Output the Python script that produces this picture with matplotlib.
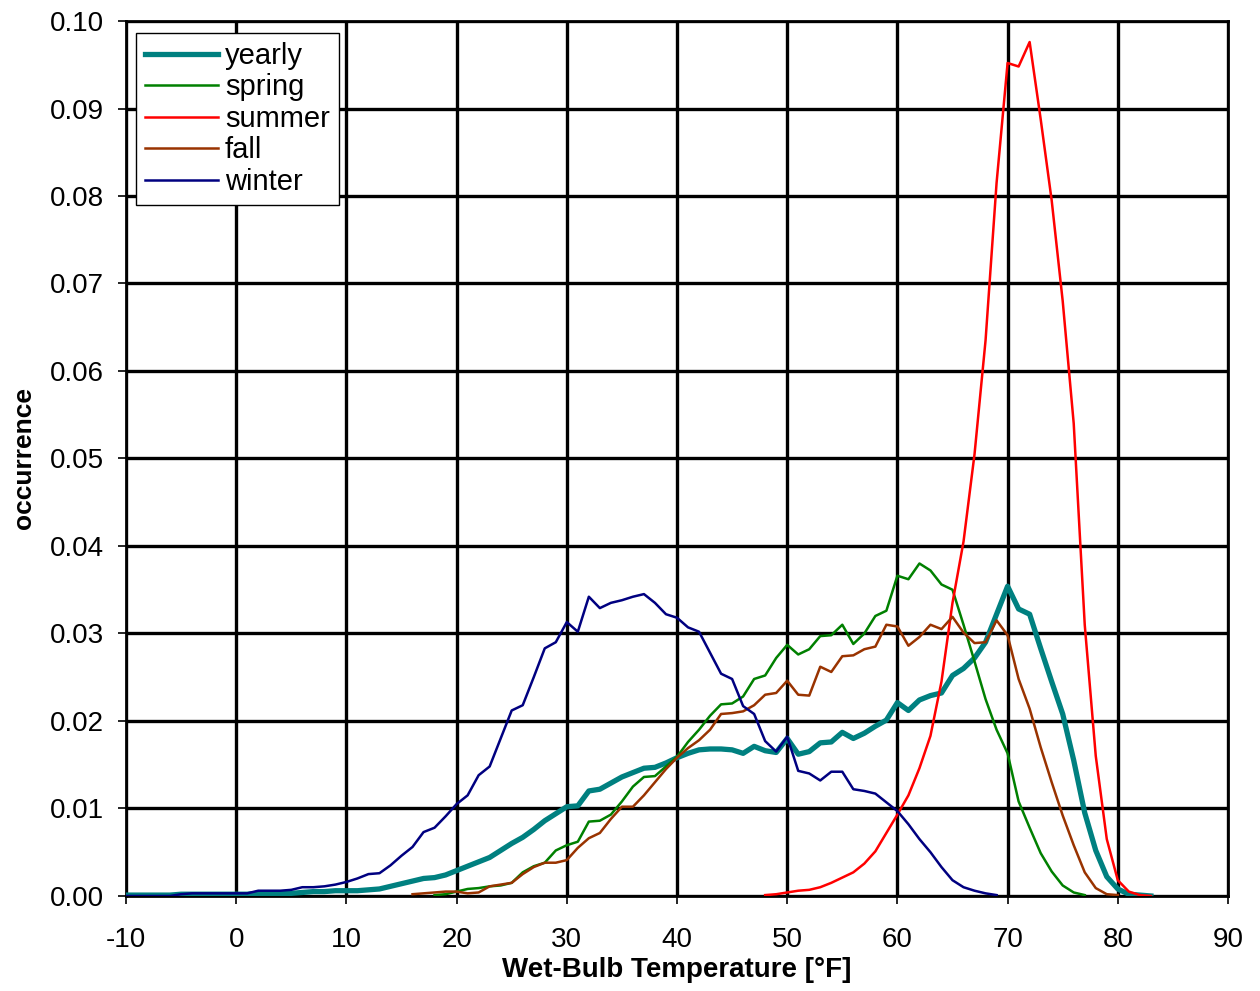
import numpy as np
import matplotlib
matplotlib.use("Agg")
import matplotlib.pyplot as plt
from matplotlib.ticker import FormatStrFormatter

plt.rcParams['font.family'] = ['Liberation Sans', 'DejaVu Sans']
plt.rcParams['axes.unicode_minus'] = False

# Frequency of wet-bulb temperature (1 degF bins), by season
yearly_t0 = -10
yearly = [0.0001, 0.0001, 0.0001, 0.0001, 0.0001, 0.0002, 0.0002, 0.0002, 0.0002, 0.0002,
          0.0002, 0.0002, 0.0003, 0.0003, 0.0003, 0.0003, 0.0004, 0.0005, 0.0005, 0.0006,
          0.0006, 0.0006, 0.0007, 0.0008, 0.0011, 0.0014, 0.0017, 0.0020, 0.0021, 0.0024,
          0.0029, 0.0034, 0.0039, 0.0044, 0.0052, 0.0060, 0.0067, 0.0076, 0.0086, 0.0094,
          0.0102, 0.0103, 0.0120, 0.0122, 0.0129, 0.0136, 0.0141, 0.0146, 0.0147, 0.0152,
          0.0158, 0.0163, 0.0167, 0.0168, 0.0168, 0.0167, 0.0163, 0.0171, 0.0166, 0.0164,
          0.0180, 0.0162, 0.0165, 0.0175, 0.0176, 0.0187, 0.0180, 0.0186, 0.0194, 0.0201,
          0.0221, 0.0212, 0.0224, 0.0229, 0.0232, 0.0252, 0.0260, 0.0272, 0.0290, 0.0322,
          0.0354, 0.0328, 0.0322, 0.0283, 0.0245, 0.0208, 0.0155, 0.0095, 0.0052, 0.0022,
          0.0008, 0.0002, 0.0001, 0.0]

spring_t0 = 18
spring = [0.0001, 0.0002, 0.0005, 0.0008, 0.0009, 0.0011, 0.0012, 0.0015, 0.0027, 0.0034,
          0.0038, 0.0052, 0.0058, 0.0062, 0.0085, 0.0086, 0.0093, 0.0108, 0.0125, 0.0136,
          0.0137, 0.0148, 0.0159, 0.0176, 0.0190, 0.0206, 0.0219, 0.0220, 0.0228, 0.0248,
          0.0252, 0.0272, 0.0287, 0.0276, 0.0282, 0.0297, 0.0298, 0.0310, 0.0288, 0.0300,
          0.0320, 0.0326, 0.0366, 0.0362, 0.0380, 0.0372, 0.0356, 0.0350, 0.0310, 0.0268,
          0.0225, 0.0190, 0.0163, 0.0108, 0.0078, 0.0049, 0.0028, 0.0012, 0.0004, 0.0001]

summer_t0 = 48
summer = [0.0001, 0.0002, 0.0004, 0.0006, 0.0007, 0.0010, 0.0015, 0.0021, 0.0027, 0.0037,
          0.0051, 0.0072, 0.0093, 0.0115, 0.0146, 0.0183, 0.0245, 0.0335, 0.0405, 0.0505,
          0.0635, 0.0815, 0.0952, 0.0948, 0.0976, 0.0888, 0.0795, 0.0680, 0.0540, 0.0310,
          0.0160, 0.0065, 0.0018, 0.0005, 0.0001, 0.0]

fall_t0 = 16
fall = [0.0002, 0.0003, 0.0004, 0.0005, 0.0005, 0.0003, 0.0004, 0.0011, 0.0013, 0.0015,
        0.0025, 0.0033, 0.0038, 0.0038, 0.0041, 0.0055, 0.0066, 0.0072, 0.0088, 0.0102,
        0.0102, 0.0115, 0.0130, 0.0145, 0.0158, 0.0169, 0.0178, 0.0190, 0.0208, 0.0209,
        0.0211, 0.0218, 0.0230, 0.0232, 0.0246, 0.0230, 0.0229, 0.0262, 0.0256, 0.0274,
        0.0275, 0.0282, 0.0285, 0.0310, 0.0308, 0.0286, 0.0296, 0.0310, 0.0305, 0.0319,
        0.0301, 0.0289, 0.0290, 0.0315, 0.0298, 0.0248, 0.0214, 0.0170, 0.0130, 0.0092,
        0.0058, 0.0027, 0.0009, 0.0002, 0.0001]

winter_t0 = -10
winter = [0.0, 0.0, 0.0, 0.0, 0.0, 0.0002, 0.0003, 0.0003, 0.0003, 0.0003,
          0.0003, 0.0003, 0.0006, 0.0006, 0.0006, 0.0007, 0.0010, 0.0010, 0.0011, 0.0013,
          0.0016, 0.0020, 0.0025, 0.0026, 0.0035, 0.0046, 0.0056, 0.0073, 0.0078, 0.0091,
          0.0105, 0.0115, 0.0138, 0.0148, 0.0180, 0.0212, 0.0218, 0.0250, 0.0283, 0.0290,
          0.0313, 0.0302, 0.0342, 0.0329, 0.0335, 0.0338, 0.0342, 0.0345, 0.0335, 0.0322,
          0.0318, 0.0307, 0.0302, 0.0278, 0.0254, 0.0248, 0.0217, 0.0208, 0.0177, 0.0165,
          0.0182, 0.0143, 0.0140, 0.0132, 0.0142, 0.0142, 0.0122, 0.0120, 0.0117, 0.0107,
          0.0097, 0.0082, 0.0065, 0.0050, 0.0033, 0.0018, 0.0010, 0.0006, 0.0003, 0.0001]

x_ticks = list(range(-10, 91, 10))
y_ticks = [0.00, 0.01, 0.02, 0.03, 0.04, 0.05, 0.06, 0.07, 0.08, 0.09, 0.10]

series = [
    ("yearly", yearly_t0, yearly, "#008080", 3.8),
    ("spring", spring_t0, spring, "#008000", 1.8),
    ("summer", summer_t0, summer, "#FF0000", 1.8),
    ("fall", fall_t0, fall, "#993300", 1.8),
    ("winter", winter_t0, winter, "#000080", 1.8),
]

fig = plt.figure(figsize=(12.6, 9.91), dpi=100)
ax = fig.add_axes([0.1, 0.0959, 0.8746, 0.8829])

for name, t0, vals, color, lw in series:
    t = np.arange(t0, t0 + len(vals))
    ax.plot(t, vals, color=color, lw=lw, label=name, solid_joinstyle='round', zorder=3)

ax.set_xlim(-10, 90)
ax.set_ylim(0, 0.10)
ax.set_xticks(x_ticks)
ax.set_yticks(y_ticks)
ax.yaxis.set_major_formatter(FormatStrFormatter('%.2f'))
ax.grid(True, color='black', lw=2.4, zorder=1)
ax.set_axisbelow(True)
for sp in ax.spines.values():
    sp.set_color('black')
    sp.set_linewidth(2.0)

ax.tick_params(axis='both', direction='out', length=6, width=1.2, colors='black',
               labelsize=20)
ax.tick_params(axis='x', pad=16)
ax.tick_params(axis='y', pad=10)

ax.set_xlabel("Wet-Bulb Temperature [°F]", fontsize=20, fontweight='bold', labelpad=3)
ax.set_ylabel("occurrence", fontsize=19, fontweight='bold', labelpad=10)

leg = ax.legend(loc='upper left', bbox_to_anchor=(10 / 1102, 1 - 12 / 875),
                fontsize=21, frameon=True, fancybox=False, framealpha=1,
                edgecolor='black', borderpad=0.3, labelspacing=0.12,
                handlelength=2.5, handletextpad=0.25, borderaxespad=0)
leg.get_frame().set_linewidth(1.0)

fig.savefig("out.png", dpi=100)
